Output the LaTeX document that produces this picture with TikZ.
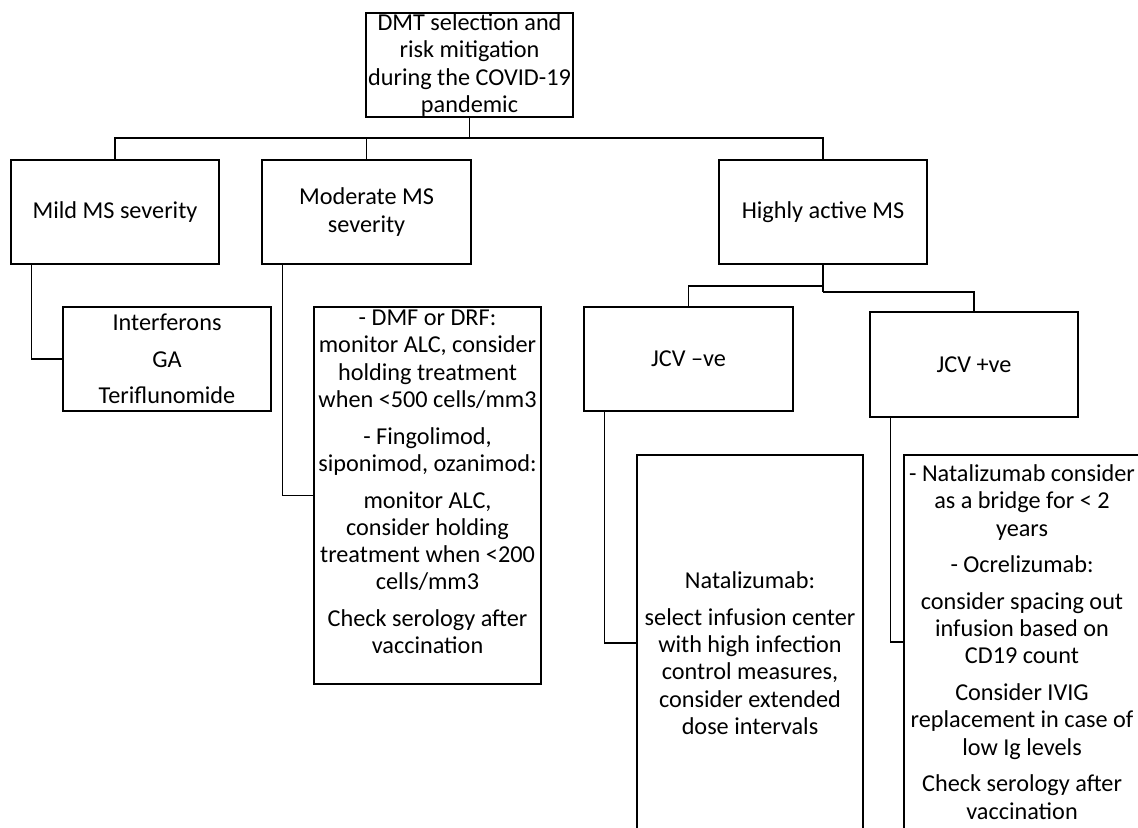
\documentclass[tikz,border=0pt]{standalone}
\usepackage{fontspec}
\setmainfont{Carlito}
\usepackage{tikz}
\tikzset{
	box/.style    = {draw, rectangle, align=center, inner xsep=0pt, inner ysep=1pt,
		minimum width=4.16cm, minimum height=2.08cm},
	note/.style   = {box, minimum width=4.54cm, minimum height=7.54cm}, % long text
	joint/.style  = {coordinate}
}
\newcommand{\gapline}{\\[0.19cm]}

\begin{document}
\begin{tikzpicture}[line width=0.75pt, font=\fontsize{13.8}{15.5}\selectfont]
	\useasboundingbox (0,0) rectangle (22.76,-16.54);
	\clip (0,0) rectangle (22.76,-16.54);
	\draw
	node at (9.39,-1.30)[box, minimum width=4.14cm, inner ysep=0pt] (root) {DMT selection and\\risk mitigation\\during the COVID-19\\pandemic}
	node at (2.30,-4.24)[box] (mild) {Mild MS severity}
	node at (7.33,-4.24)[box, minimum width=4.18cm] (moderate) {Moderate MS\\severity}
	node at (16.46,-4.24)[box] (highly) {Highly active MS};
	
	\draw
	node at (3.34,-7.18)[box] (mildtx) {Interferons\gapline GA\gapline Teriflunomide}
	node at (8.55,-9.91)[note] (modtx) {- DMF or DRF:\\monitor ALC, consider\\holding treatment\\when <500 cells/mm3\gapline
		- Fingolimod,\\siponimod, ozanimod:\gapline monitor ALC,\\consider holding\\treatment when <200\\cells/mm3\gapline
		Check serology after\\vaccination\\\mbox{}}
	node at (13.77,-7.18)[box, minimum width=4.18cm] (jcvneg) {JCV –ve}
	node at (19.48,-7.29)[box, minimum height=2.10cm] (jcvpos) {JCV +ve}
	node at (15.00,-12.86)[note, minimum width=4.52cm, minimum height=7.52cm] (nattx) {\mbox{}\\[0.2cm]Natalizumab:\gapline
		select infusion center\\with high infection\\control measures,\\consider extended\\dose intervals}
	node at (20.44,-12.84)[note, minimum width=4.72cm, minimum height=7.48cm] (postx) {- Natalizumab consider\\as a bridge for < 2\\years\gapline
		- Ocrelizumab:\gapline consider spacing out\\infusion based on\\CD19 count\gapline
		Consider IVIG\\replacement in case of\\low Ig levels\gapline Check serology after\\vaccination};
	
	% tree lines
	\node at (9.39,-2.76)[joint] (top) {};
	\node at (16.46,-5.72)[joint] (hl) {};
	\node at (16.46,-5.84)[joint] (hr) {};
	\draw (root) -- (top);
	\draw (mild.north) |- (top);
	\draw (moderate.north) |- (top);
	\draw (highly.north) |- (top);
	\draw (highly) -- (hr);
	\draw (jcvneg.north) |- (hl);
	\draw (jcvpos.north) |- (hr);
	
	% side links
	\draw ([xshift=0.42cm]mild.south west) |- (mildtx.west);
	\draw ([xshift=0.42cm]moderate.south west) |- (modtx.west);
	\draw ([xshift=0.42cm]jcvneg.south west) |- (nattx.west);
	\draw ([xshift=0.42cm]jcvpos.south west) |- (postx.west);
\end{tikzpicture}
\end{document}
